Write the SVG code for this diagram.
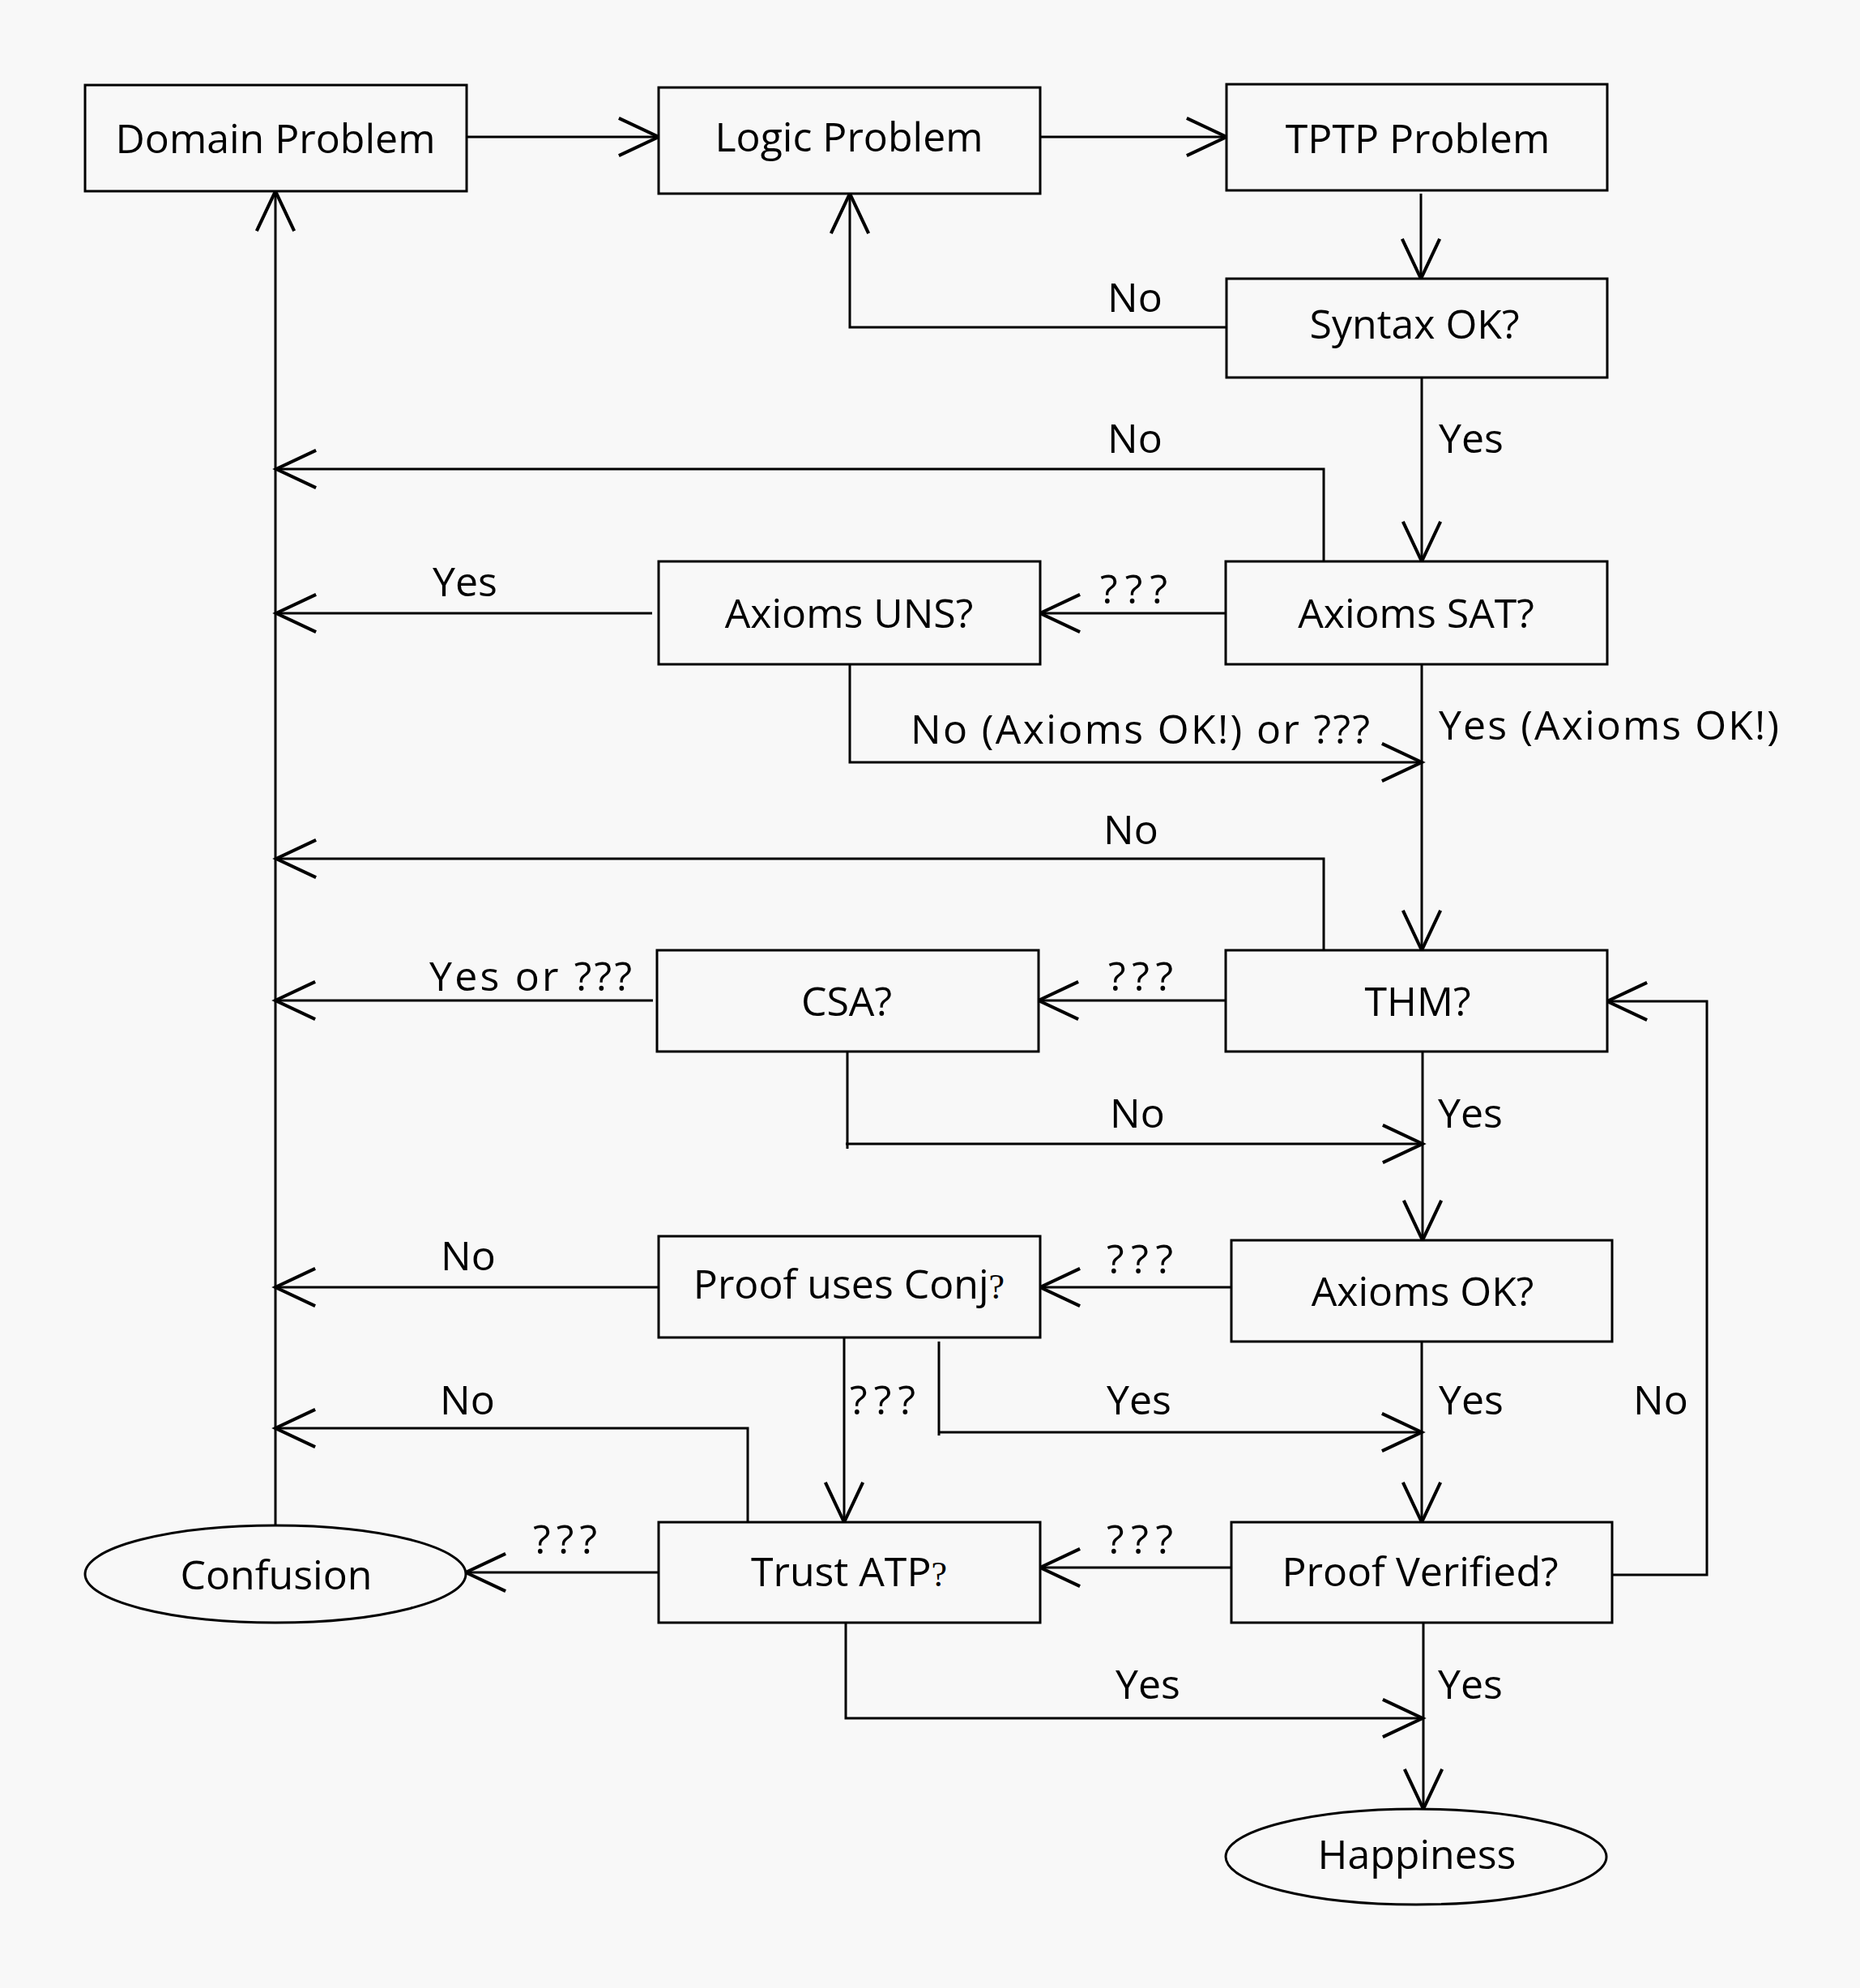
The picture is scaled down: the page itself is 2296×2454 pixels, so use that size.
<svg xmlns="http://www.w3.org/2000/svg" width="2296" height="2454" viewBox="0 0 2296 2454">
<style>
.n{fill:#f8f8f8;stroke:#000;stroke-width:3}
.t{font-family:"Open Sans","DejaVu Sans",sans-serif;font-size:50px;fill:#000}
.c{text-anchor:middle}
.q{font-family:"Liberation Serif",serif;font-size:44px}
.e{fill:none;stroke:#000;stroke-width:3}
</style>
<defs>
<marker id="a" markerUnits="userSpaceOnUse" markerWidth="60" markerHeight="60" viewBox="-40 -20 44 40" refX="0" refY="0" orient="auto" overflow="visible">
<path d="M-36,-17 L0,0 L-36,17" fill="none" stroke="#000" stroke-width="3"/>
</marker>
</defs>
<rect width="2296" height="2454" fill="#f8f8f8"/>
<g id="connectors">
<path class="e" d="M576,169 H813" marker-end="url(#a)"/>
<path class="e" d="M1284,169 H1514" marker-end="url(#a)"/>
<path class="e" d="M1754,239 V344" marker-end="url(#a)"/>
<path class="e" d="M1514,404 H1049 V239" marker-end="url(#a)"/>
<path class="e" d="M1755,466 V693" marker-end="url(#a)"/>
<path class="e" d="M1634,693 V579 H341" marker-end="url(#a)"/>
<path class="e" d="M1513,757 H1284" marker-end="url(#a)"/>
<path class="e" d="M805,757 H341" marker-end="url(#a)"/>
<path class="e" d="M1049,820 V941 H1755" marker-end="url(#a)"/>
<path class="e" d="M1755,820 V1173" marker-end="url(#a)"/>
<path class="e" d="M1634,1173 V1060 H341" marker-end="url(#a)"/>
<path class="e" d="M1513,1235 H1282" marker-end="url(#a)"/>
<path class="e" d="M806,1235 H340" marker-end="url(#a)"/>
<path class="e" d="M1046,1298 V1418"/>
<path class="e" d="M1044,1412 H1756" marker-end="url(#a)"/>
<path class="e" d="M1756,1298 V1531" marker-end="url(#a)"/>
<path class="e" d="M1520,1589 H1284" marker-end="url(#a)"/>
<path class="e" d="M813,1589 H340" marker-end="url(#a)"/>
<path class="e" d="M1042,1651 V1879" marker-end="url(#a)"/>
<path class="e" d="M1159,1656 V1772"/>
<path class="e" d="M1159,1768 H1755" marker-end="url(#a)"/>
<path class="e" d="M1755,1656 V1879" marker-end="url(#a)"/>
<path class="e" d="M923,1879 V1763 H340" marker-end="url(#a)"/>
<path class="e" d="M1520,1935 H1284" marker-end="url(#a)"/>
<path class="e" d="M813,1941 H575" marker-end="url(#a)"/>
<path class="e" d="M340,1884 V236" marker-end="url(#a)"/>
<path class="e" d="M1990,1944 H2107 V1236 H1984" marker-end="url(#a)"/>
<path class="e" d="M1044,2003 V2121 H1756" marker-end="url(#a)"/>
<path class="e" d="M1757,2003 V2233" marker-end="url(#a)"/>
</g>
<g id="labels" class="t">
<text x="1367" y="385">No</text>
<text x="1367" y="559">No</text>
<text x="1776" y="559">Yes</text>
<text x="534" y="736">Yes</text>
<text x="1358" y="745" textLength="83" lengthAdjust="spacing">???</text>
<text x="1124" y="918" textLength="567" lengthAdjust="spacing">No (Axioms OK!) or ???</text>
<text x="1776" y="913" textLength="420" lengthAdjust="spacing">Yes (Axioms OK!)</text>
<text x="1362" y="1042">No</text>
<text x="530" y="1223" textLength="250" lengthAdjust="spacing">Yes or ???</text>
<text x="1368" y="1223" textLength="80" lengthAdjust="spacing">???</text>
<text x="1370" y="1392">No</text>
<text x="1775" y="1392">Yes</text>
<text x="544" y="1568">No</text>
<text x="1366" y="1572" textLength="82" lengthAdjust="spacing">???</text>
<text x="543" y="1746">No</text>
<text x="1049" y="1746" textLength="81" lengthAdjust="spacing">???</text>
<text x="1366" y="1746">Yes</text>
<text x="1776" y="1746">Yes</text>
<text x="2016" y="1746">No</text>
<text x="658" y="1918" textLength="79" lengthAdjust="spacing">???</text>
<text x="1366" y="1918" textLength="82" lengthAdjust="spacing">???</text>
<text x="1377" y="2097">Yes</text>
<text x="1775" y="2097">Yes</text>
</g>
<g id="domain"><rect class="n" x="105" y="105" width="471" height="131"/><text class="t c" x="340" y="189">Domain Problem</text></g>
<g id="logic"><rect class="n" x="813" y="108" width="471" height="131"/><text class="t c" x="1048" y="187">Logic Problem</text></g>
<g id="tptp"><rect class="n" x="1514" y="104" width="470" height="131"/><text class="t c" x="1750" y="189">TPTP Problem</text></g>
<g id="syntax"><rect class="n" x="1514" y="344" width="470" height="122"/><text class="t c" x="1746" y="418">Syntax OK?</text></g>
<g id="uns"><rect class="n" x="813" y="693" width="471" height="127"/><text class="t c" x="1048" y="775">Axioms UNS?</text></g>
<g id="sat"><rect class="n" x="1513" y="693" width="471" height="127"/><text class="t c" x="1748" y="775">Axioms SAT?</text></g>
<g id="csa"><rect class="n" x="811" y="1173" width="471" height="125"/><text class="t c" x="1045" y="1254">CSA?</text></g>
<g id="thm"><rect class="n" x="1513" y="1173" width="471" height="125"/><text class="t c" x="1750" y="1254">THM?</text></g>
<g id="puc"><rect class="n" x="813" y="1526" width="471" height="125"/><text class="t c" x="1048" y="1603">Proof uses Conj<tspan class="q">?</tspan></text></g>
<g id="axok"><rect class="n" x="1520" y="1531" width="470" height="125"/><text class="t c" x="1756" y="1612">Axioms OK?</text></g>
<g id="trust"><rect class="n" x="813" y="1879" width="471" height="124"/><text class="t c" x="1048" y="1958">Trust ATP<tspan class="q">?</tspan></text></g>
<g id="pv"><rect class="n" x="1520" y="1879" width="470" height="124"/><text class="t c" x="1753" y="1958">Proof Verified?</text></g>
<g id="confusion"><ellipse class="n" cx="340" cy="1943" rx="235" ry="60"/><text class="t c" x="341" y="1962">Confusion</text></g>
<g id="happiness"><ellipse class="n" cx="1748" cy="2292" rx="235" ry="59"/><text class="t c" x="1749" y="2307">Happiness</text></g>
</svg>
